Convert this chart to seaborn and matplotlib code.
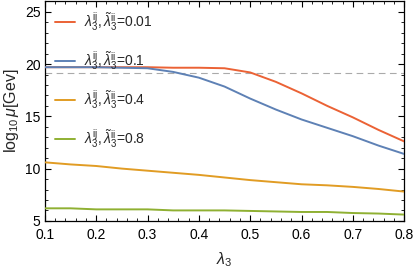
import numpy as np
import pandas as pd
import matplotlib
matplotlib.use("Agg")
import matplotlib.pyplot as plt
import seaborn as sns
from matplotlib.ticker import MultipleLocator

# lambda_3 grid and log10(mu) values
lam3 = [0.1, 0.15, 0.2, 0.25, 0.3, 0.35, 0.4, 0.45, 0.5, 0.55, 0.6, 0.65, 0.7, 0.75, 0.8]
mu_001 = [19.7, 19.7, 19.7, 19.7, 19.7, 19.65, 19.65, 19.6, 19.2, 18.3, 17.2, 16.0, 14.9, 13.7, 12.6]
mu_01 = [19.7, 19.7, 19.7, 19.65, 19.6, 19.25, 18.7, 17.85, 16.7, 15.65, 14.7, 13.9, 13.1, 12.2, 11.4]
mu_04 = [10.6, 10.4, 10.25, 10.0, 9.8, 9.6, 9.4, 9.15, 8.9, 8.7, 8.5, 8.4, 8.25, 8.05, 7.8]
mu_08 = [6.2, 6.2, 6.1, 6.1, 6.1, 6.0, 6.0, 6.0, 5.95, 5.9, 5.85, 5.85, 5.75, 5.7, 5.6]
labels = ["0.01", "0.1", "0.4", "0.8"]
colors = ["#EB6235", "#5E81B5", "#E19C24", "#8FB032"]
cutoff = 19.1

df = pd.DataFrame({
    "lam3": lam3 * 4,
    "mu": mu_001 + mu_01 + mu_04 + mu_08,
    "val": np.repeat(labels, len(lam3)),
})
df["label"] = [r"$\lambda_3^{\rm ij},\tilde{\lambda}_3^{\rm ii}$=" + v for v in df["val"]]

sns.set_style("ticks")
plt.rcParams["font.family"] = ["Liberation Sans", "DejaVu Sans"]
plt.rcParams["mathtext.fontset"] = "custom"
plt.rcParams["mathtext.rm"] = "Liberation Sans"
plt.rcParams["mathtext.it"] = "Liberation Sans:italic"

fig = plt.figure(figsize=(4.15, 2.71), dpi=100)
ax = fig.add_axes([0.108, 0.185, 0.866, 0.81])

ax.axhline(cutoff, color="#aaaaaa", lw=0.8, ls=(0, (6, 4)), zorder=1)
sns.lineplot(data=df, x="lam3", y="mu", hue="label", palette=colors,
             lw=1.4, ax=ax, zorder=3)

ax.set_xlim(0.1, 0.8)
ax.set_ylim(5, 26)
ax.xaxis.set_major_locator(MultipleLocator(0.1))
ax.xaxis.set_minor_locator(MultipleLocator(0.02))
ax.yaxis.set_major_locator(MultipleLocator(5))
ax.yaxis.set_minor_locator(MultipleLocator(1))
ax.tick_params(which="both", direction="in", top=True, right=True,
               labelsize=10, colors="black")
ax.tick_params(axis="x", pad=5)
ax.tick_params(axis="y", pad=3)
ax.tick_params(which="major", length=4, width=0.8)
ax.tick_params(which="minor", length=2, width=0.6)
for s in ax.spines.values():
    s.set_linewidth(0.9)
    s.set_color("black")

ax.set_xlabel(r"$\lambda_3$", fontsize=11.5, labelpad=6)
ax.set_ylabel(r"$\log_{10}\mu$[Gev]", fontsize=11.5, labelpad=3)

leg = ax.legend(loc="upper left", frameon=False, fontsize=10,
                handlelength=1.5, handletextpad=0.6, labelspacing=1.15,
                bbox_to_anchor=(0.004, 0.998), borderaxespad=0.2)

fig.savefig("out.png", dpi=100)
